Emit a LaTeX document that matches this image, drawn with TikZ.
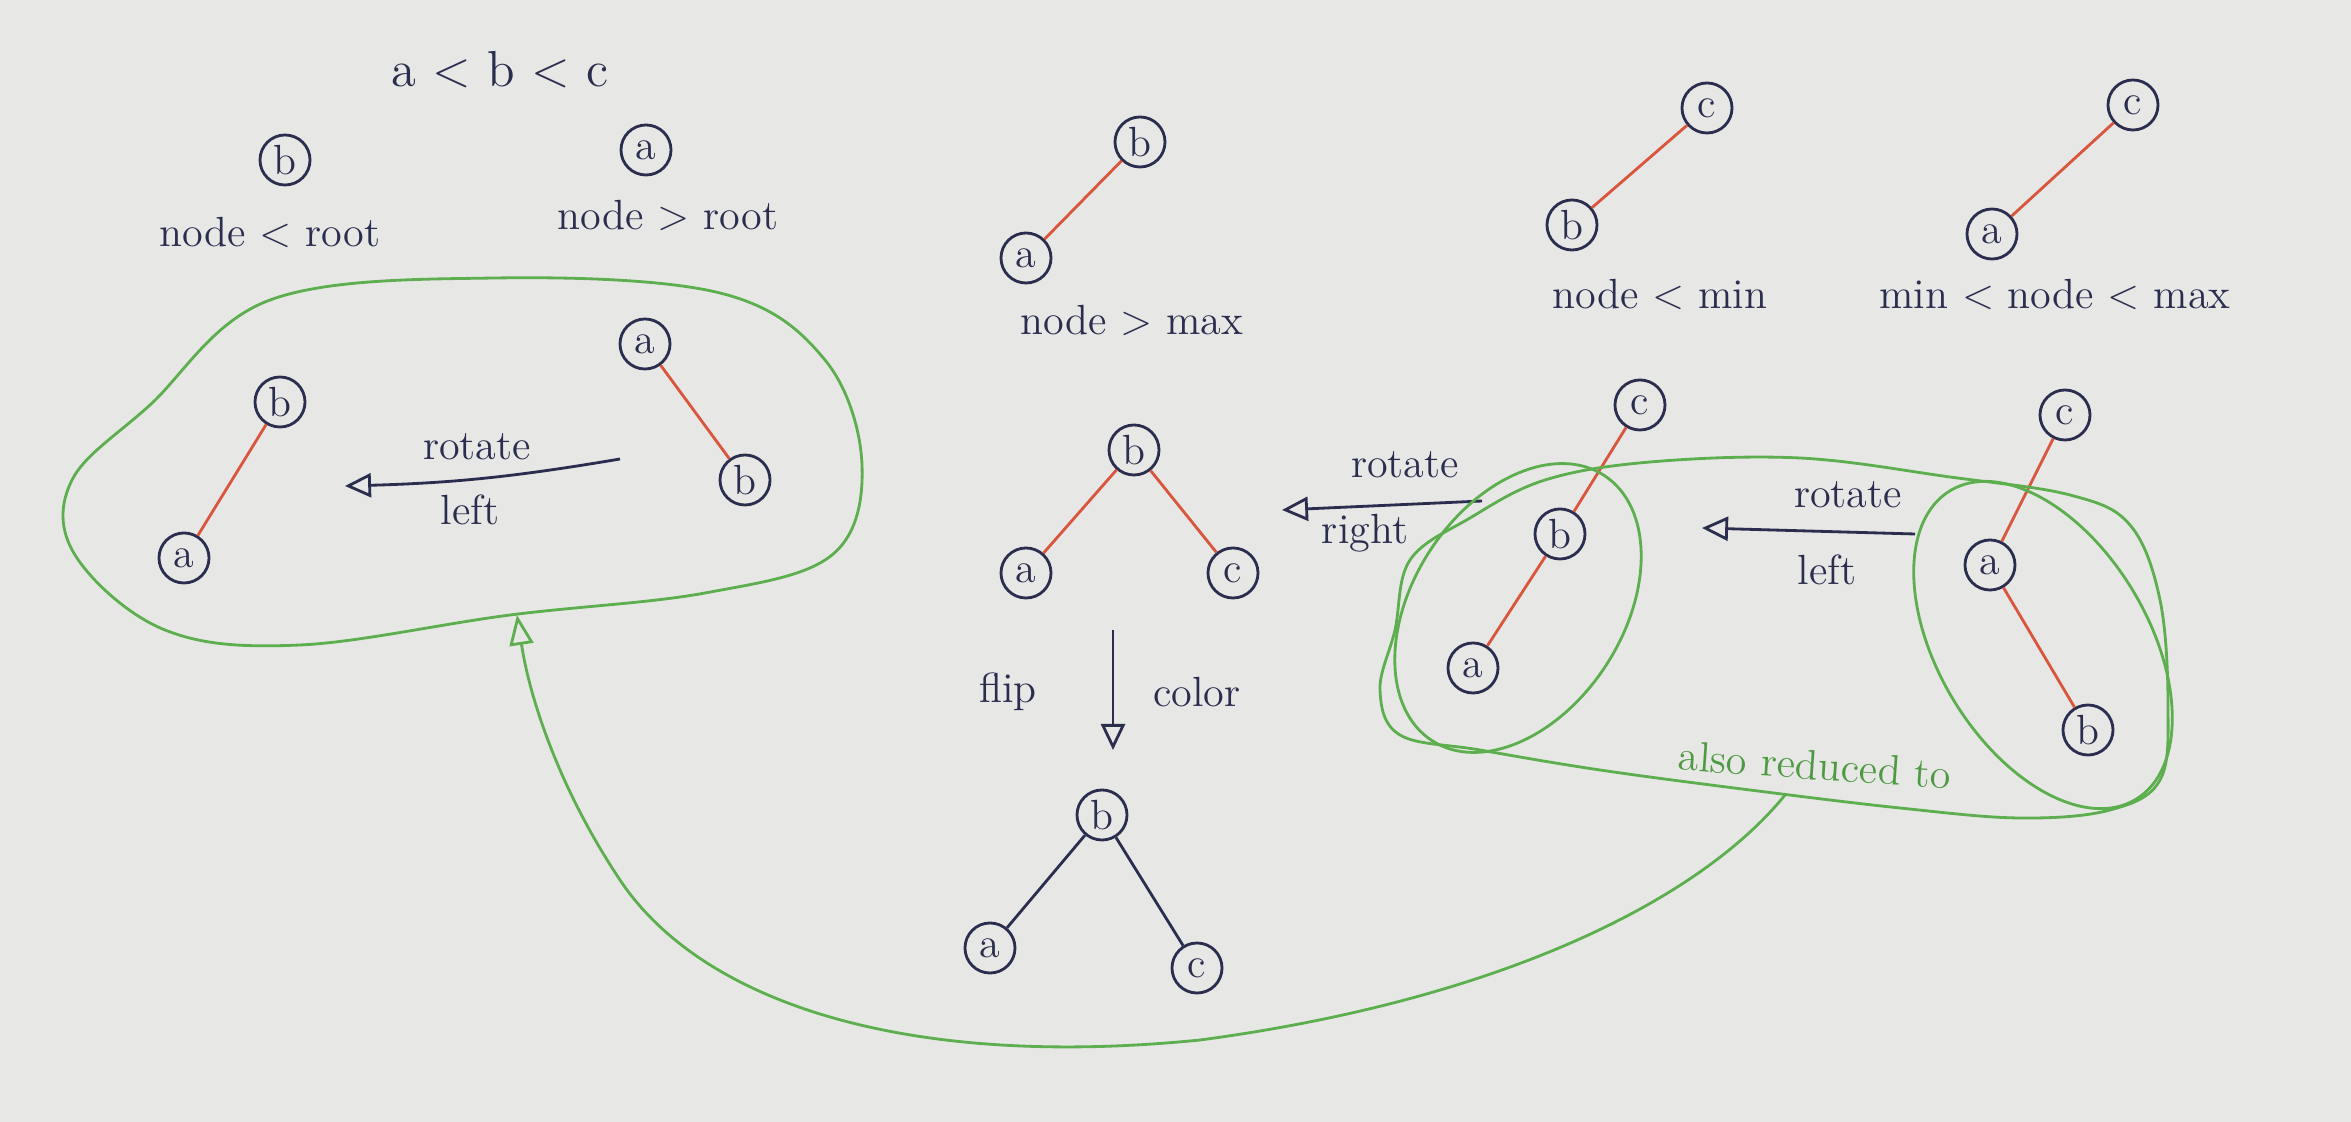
\documentclass[tikz,border=0pt]{standalone}
\usepackage{fontspec}
\usetikzlibrary{arrows.meta}
\definecolor{ink}{HTML}{2B2D4F}
\definecolor{redlink}{HTML}{D9553B}
\definecolor{pen}{HTML}{5DAE4F}
\definecolor{pentext}{HTML}{4E9A42}
\definecolor{paper}{HTML}{E7E7E5}
\tikzset{
  key/.style={circle,draw=ink,thick,minimum size=0.5cm,inner sep=0pt,text=ink,font=\large},
  rlink/.style={redlink,thick},
  blink/.style={ink,thick},
  move/.style={-{Triangle[open,length=2.6mm,width=2.4mm]},ink,thick},
  loop/.style={pen,thick},
  reduce/.style={-{Triangle[open,length=3mm,width=2.4mm]},pen,thick},
  note/.style={text=ink,font=\large},
}

\begin{document}
\begin{tikzpicture}[x=0.01cm,y=-0.01cm]
  \fill[paper] (0,0) rectangle (2351,1122);
  \useasboundingbox (0,0) rectangle (2351,1122);

  \node[note,font=\Large] (order) at (500,70) {a < b < c};

  % single nodes
  \node[key] (rb) at (285,160) {b};
  \node[note] (rbtxt) at (270,232) {node < root};
  \node[key] (ra) at (646,150) {a};
  \node[note] (ratxt) at (668,215) {node > root};

  % two nodes + new one
  \node[key] (t1b) at (1140,142) {b};
  \node[key] (t1a) at (1026,258) {a};
  \draw[rlink] (t1b) -- (t1a);
  \node[note] (t1txt) at (1132,320) {node > max};

  \node[key] (t2c) at (1707,108) {c};
  \node[key] (t2b) at (1572,225) {b};
  \draw[rlink] (t2c) -- (t2b);
  \node[note] (t2txt) at (1660,294) {node < min};

  \node[key] (t3c) at (2133,105) {c};
  \node[key] (t3a) at (1992,234) {a};
  \draw[rlink] (t3c) -- (t3a);
  \node[note] (t3txt) at (2055,294) {min < node < max};

  % left group
  \node[key] (lb) at (280,402) {b};
  \node[key] (la) at (184,558) {a};
  \draw[rlink] (lb) -- (la);
  \node[key] (sa) at (645,344) {a};
  \node[key] (sb) at (745,480) {b};
  \draw[rlink] (sa) -- (sb);
  \coordinate (l1) at (620,459);
  \coordinate (l2) at (345,486);
  \draw[move] (l1) to[bend left=4] (l2);
  \node[note] (l1txt) at (477,447) {rotate};
  \node[note] (l2txt) at (470,510) {left};
  \draw[loop] plot[smooth cycle,tension=0.6] coordinates {(150,405) (270,300) (495,278) (720,293) (825,360) (862,465)
    (832,555) (705,593) (510,615) (300,645) (165,630) (75,555) (72,480)};

  % balanced
  \node[key] (mb) at (1134,450) {b};
  \node[key] (ma) at (1026,573) {a};
  \node[key] (mc) at (1233,573) {c};
  \draw[rlink] (mb) -- (ma);
  \draw[rlink] (mb) -- (mc);
  \coordinate (f1) at (1113,630);
  \coordinate (f2) at (1113,750);
  \draw[move] (f1) -- (f2);
  \node[note] (f1txt) at (1008,692) {flip};
  \node[note] (f2txt) at (1197,692) {color};
  \node[key] (fb) at (1102,815) {b};
  \node[key] (fa) at (990,948) {a};
  \node[key] (fc) at (1197,968) {c};
  \draw[blink] (fb) -- (fa);
  \draw[blink] (fb) -- (fc);

  % right side
  \node[key] (pc) at (1640,405) {c};
  \node[key] (pb) at (1560,534) {b};
  \node[key] (pa) at (1473,668) {a};
  \draw[rlink] (pc) -- (pb);
  \draw[rlink] (pb) -- (pa);
  \coordinate (r1) at (1482,501);
  \coordinate (r2) at (1282,510);
  \draw[move] (r1) -- (r2);
  \node[note] (r1txt) at (1405,465) {rotate};
  \node[note] (r2txt) at (1365,533) {right};

  \node[key] (qc) at (2065,415) {c};
  \node[key] (qa) at (1990,565) {a};
  \node[key] (qb) at (2088,730) {b};
  \draw[rlink] (qc) -- (qa);
  \draw[rlink] (qa) -- (qb);
  \coordinate (q1) at (1915,534);
  \coordinate (q2) at (1702,528);
  \draw[move] (q1) -- (q2);
  \node[note] (q1txt) at (1848,495) {rotate};
  \node[note] (q2txt) at (1827,570) {left};

  % green marks
  \draw[loop,rotate around={57:(1518,608)}] (1518,608) ellipse [x radius=1.58cm,y radius=1.05cm];
  \draw[loop,rotate around={-59:(2043,645)}] (2043,645) ellipse [x radius=1.8cm,y radius=1.05cm];
  \draw[loop] plot[smooth cycle,tension=0.6] coordinates {(1395,630) (1410,560) (1470,518) (1545,480) (1650,462)
    (1800,458) (1950,477) (2070,495) (2130,525) (2160,600) (2168,705) (2160,780) (2110,810) (2020,818)
    (1900,808) (1750,790) (1600,770) (1480,750) (1400,735) (1380,690)};
  \node[text=pentext,font=\large,rotate=-4] (also) at (1815,765) {also reduced to};
  \coordinate (g1) at (1785,795);
  \coordinate (g2) at (517,615);
  \draw[reduce] (g1) .. controls (1700,900) and (1500,1000) .. (1200,1040)
    .. controls (900,1070) and (700,1000) .. (620,880)
    .. controls (560,790) and (530,700) .. (g2);
\end{tikzpicture}
\end{document}
